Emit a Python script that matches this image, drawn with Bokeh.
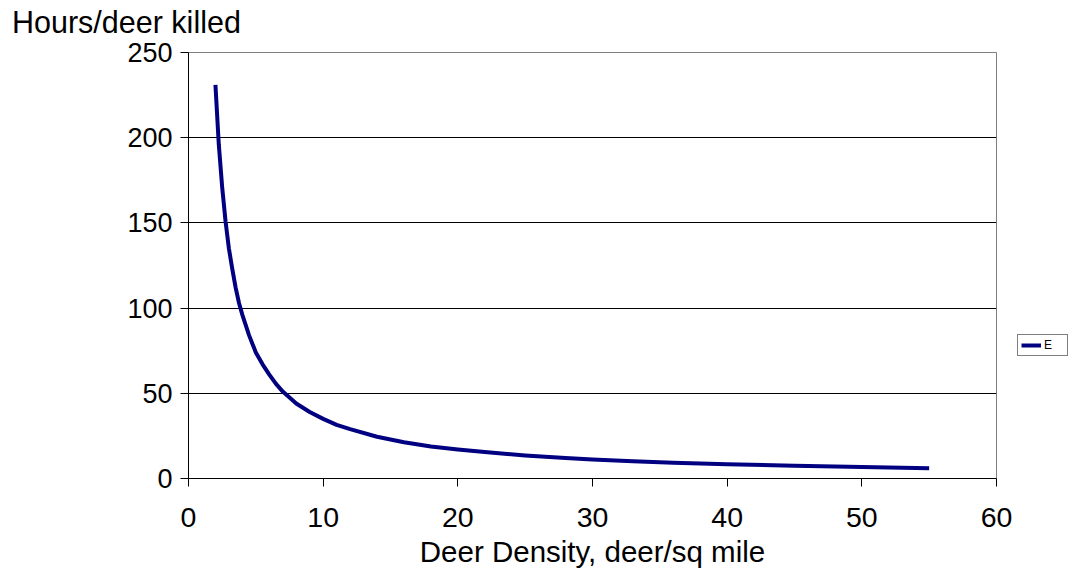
from bokeh.plotting import figure
from bokeh.models import Range1d, FixedTicker, Legend, LegendItem, Div
from bokeh.layouts import row, column
from bokeh.embed import file_html
from bokeh.resources import INLINE

density = [2, 2.25, 2.5, 2.75, 3, 3.25, 3.5, 3.75, 4, 4.5, 5, 5.5, 6, 6.5, 7, 8, 9,
           10, 11, 12, 14, 16, 18, 20, 22, 25, 28, 30, 33, 36, 40, 45, 50, 55]
hours = [231, 196, 171, 151, 135, 123, 112, 103, 96, 84, 74, 67, 61, 55.5, 51, 44, 39,
         35, 31.5, 29, 24.5, 21.3, 18.8, 17, 15.5, 13.5, 12, 11.1, 10.1, 9.2, 8.4, 7.5, 6.8, 6.0]
series_name = "E"
y_caption = "Hours/deer killed"
x_caption = "Deer Density, deer/sq mile"
x_ticks = [0, 10, 20, 30, 40, 50, 60]
y_ticks = [0, 50, 100, 150, 200, 250]

FONT = "Liberation Sans"
LINE_COLOR = "#000080"
HEAD = 32

header = Div(text=f'<span style="position:relative;top:6px">{y_caption}</span>',
             width=1081, height=HEAD, margin=0,
             styles={"font-family": FONT, "font-size": "30.5px", "color": "black",
                     "line-height": f"{HEAD}px", "padding-left": "12px",
                     "white-space": "nowrap", "overflow": "visible"})

p = figure(width=1016, height=573 - HEAD, output_backend="svg", toolbar_location=None,
           x_range=Range1d(0, 60), y_range=Range1d(0, 250),
           min_border_left=188, min_border_right=20, min_border_top=52 - HEAD,
           min_border_bottom=95)
p.background_fill_color = "white"
p.border_fill_color = None
p.outline_line_color = "#808080"
p.outline_line_width = 1

p.line(density, hours, line_color=LINE_COLOR, line_width=4, line_join="round")

p.xgrid.visible = False
p.ygrid.grid_line_color = "black"
p.ygrid.grid_line_width = 1
p.ygrid.ticker = FixedTicker(ticks=y_ticks)

for ax in (p.xaxis[0], p.yaxis[0]):
    ax.axis_line_color = "black"
    ax.axis_line_width = 1
    ax.major_tick_line_color = "black"
    ax.major_tick_out = 8
    ax.major_tick_in = 0
    ax.minor_tick_line_color = None
    ax.major_label_text_font = FONT
    ax.major_label_text_color = "black"

p.xaxis.major_label_text_font_size = "28.5px"
p.yaxis.major_label_text_font_size = "27px"
p.xaxis.ticker = FixedTicker(ticks=x_ticks)
p.yaxis.ticker = FixedTicker(ticks=y_ticks)
p.xaxis.major_label_standoff = 21
p.yaxis.major_label_standoff = 8
p.xaxis.axis_label = x_caption
p.xaxis.axis_label_text_font = FONT
p.xaxis.axis_label_text_font_size = "29.5px"
p.xaxis.axis_label_text_font_style = "normal"
p.xaxis.axis_label_text_color = "black"
p.xaxis.axis_label_standoff = 5

# narrow side figure that only carries the legend box
p2 = figure(width=65, height=573 - HEAD, output_backend="svg", toolbar_location=None,
            min_border=0, x_axis_type=None, y_axis_type=None,
            x_range=Range1d(0, 1), y_range=Range1d(0, 1))
p2.outline_line_color = None
p2.border_fill_color = None
p2.background_fill_color = None
p2.xgrid.visible = False
p2.ygrid.visible = False
# same series, lying wholly outside this panel's ranges: only its legend swatch shows
swatch = p2.line(density, hours, line_color=LINE_COLOR, line_width=4)
legend = Legend(items=[LegendItem(label=series_name, renderers=[swatch])],
                location=(1, 122), orientation="vertical",
                border_line_color="black", border_line_width=1,
                background_fill_color="white", background_fill_alpha=1,
                label_text_font=FONT, label_text_font_size="12px",
                label_text_color="black",
                glyph_width=20, glyph_height=14, padding=3, margin=0,
                label_standoff=3, spacing=0)
p2.add_layout(legend, "center")

layout = column(header, row(p, p2, spacing=0), spacing=0)
open("out.html", "w").write(file_html(layout, INLINE))
